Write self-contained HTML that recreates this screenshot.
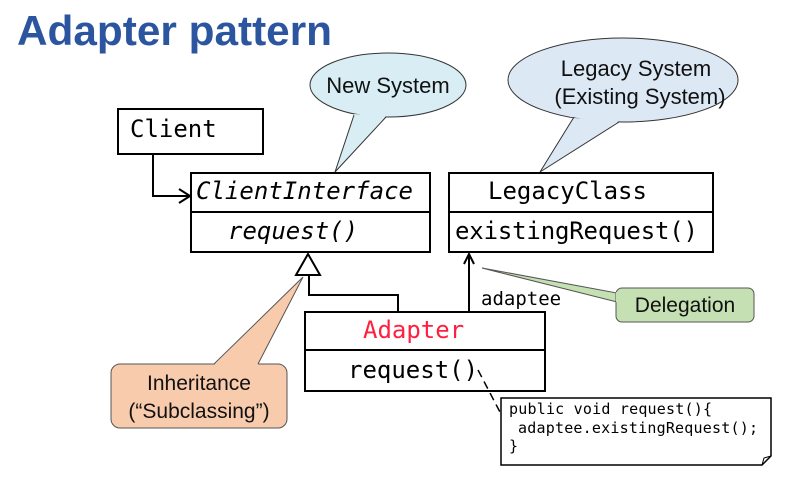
<!DOCTYPE html>
<html><head><meta charset="utf-8"><style>
html,body{margin:0;padding:0;background:#fff;}
svg{display:block}
.m{font-family:"DejaVu Sans Mono","Liberation Mono",monospace;}
.s{font-family:"Liberation Sans",sans-serif;}
</style></head><body>
<svg width="802" height="486" viewBox="0 0 802 486" xmlns="http://www.w3.org/2000/svg">
<text x="17" y="45" class="s" font-size="42" font-weight="bold" fill="#2c55a0" textLength="315" lengthAdjust="spacingAndGlyphs">Adapter pattern</text>

<!-- New System bubble -->
<ellipse cx="388" cy="85" rx="78" ry="32" fill="#d9eef4" stroke="#333" stroke-width="1"/>
<path d="M335,172 L354,114 L386,116 Z" fill="#d9eef4"/>
<path d="M354,115 L335,172 L386,117" fill="none" stroke="#333" stroke-width="1"/>
<text x="388" y="93" class="s" font-size="22" text-anchor="middle" fill="#111">New System</text>

<!-- Legacy bubble -->
<ellipse cx="623" cy="80" rx="115" ry="42" fill="#dde8f5" stroke="#333" stroke-width="1"/>
<path d="M574,118 L540,172 L619,121 Z" fill="#dde8f5"/>
<path d="M574,117 L540,172 L619,122" fill="none" stroke="#333" stroke-width="1"/>
<text x="636" y="76" class="s" font-size="22" text-anchor="middle" fill="#111">Legacy System</text>
<text x="640" y="104" class="s" font-size="22" text-anchor="middle" fill="#111">(Existing System)</text>

<!-- Client -->
<rect x="118" y="109" width="145" height="45" fill="#fff" stroke="#000" stroke-width="2"/>
<text x="130" y="137" class="m" font-size="24">Client</text>
<path d="M153,154 V196 H189" fill="none" stroke="#000" stroke-width="2"/>
<path d="M179,189 L190,196 L179,203" fill="none" stroke="#000" stroke-width="2"/>

<!-- ClientInterface -->
<rect x="191" y="173" width="239" height="79" fill="#fff" stroke="#000" stroke-width="2"/>
<line x1="191" y1="212" x2="430" y2="212" stroke="#000" stroke-width="2"/>
<text x="196" y="199" class="m" font-size="24" font-style="italic" textLength="217">ClientInterface</text>
<text x="228" y="239" class="m" font-size="24" font-style="italic">request()</text>

<!-- LegacyClass -->
<rect x="449" y="173" width="264" height="79" fill="#fff" stroke="#000" stroke-width="2"/>
<line x1="449" y1="212" x2="713" y2="212" stroke="#000" stroke-width="2"/>
<text x="488" y="199" class="m" font-size="24">LegacyClass</text>
<text x="455" y="239" class="m" font-size="24" textLength="243">existingRequest()</text>

<!-- Inheritance -->
<path d="M309,275 V295 H398 V312" fill="none" stroke="#000" stroke-width="2"/>
<path d="M308,254 L296,275 L320,275 Z" fill="#fff" stroke="#000" stroke-width="2"/>

<!-- Adaptee -->
<line x1="469" y1="312" x2="469" y2="254" stroke="#000" stroke-width="2"/>
<path d="M464,264 L469,254 L474,264" fill="none" stroke="#000" stroke-width="2"/>
<text x="481" y="305" class="m" font-size="19">adaptee</text>

<!-- Adapter -->
<rect x="305" y="312" width="240" height="79" fill="#fff" stroke="#000" stroke-width="2"/>
<line x1="305" y1="350" x2="545" y2="350" stroke="#000" stroke-width="2"/>
<text x="363" y="338" class="m" font-size="24" fill="#ff2040">Adapter</text>
<text x="348" y="378" class="m" font-size="24">request()</text>

<!-- Delegation -->
<path d="M482,268 L617,293 L617,302 Z" fill="#c5e0b3" stroke="#555" stroke-width="1"/>
<rect x="616" y="288" width="138" height="34" rx="6" fill="#c5e0b3" stroke="#555" stroke-width="1"/>
<path d="M616,292 L620,293 L620,302 L616,302 Z" fill="#c5e0b3"/>
<text x="685" y="312" class="s" font-size="21" text-anchor="middle" fill="#111">Delegation</text>

<!-- Inheritance callout -->
<rect x="111" y="364" width="176" height="64" rx="9" fill="#f8cbad" stroke="#555" stroke-width="1"/>
<path d="M214,365 L303,277 L258,365 Z" fill="#f8cbad"/>
<path d="M214,364 L303,277 L258,364" fill="none" stroke="#555" stroke-width="1"/>
<text x="199" y="390" class="s" font-size="21" text-anchor="middle" fill="#111">Inheritance</text>
<text x="199" y="418" class="s" font-size="21" text-anchor="middle" fill="#111">(“Subclassing”)</text>

<!-- Note -->
<line x1="478" y1="370" x2="501" y2="414" stroke="#000" stroke-width="1.5" stroke-dasharray="8,5"/>
<path d="M501,398 H771 V456 L762,465 H501 Z" fill="#fff" stroke="#000" stroke-width="1.5"/>
<path d="M762,465 L764,458 L771,456" fill="none" stroke="#000" stroke-width="1"/>
<text x="509" y="414" class="m" font-size="15" textLength="203">public void request(){</text>
<text x="518" y="433" class="m" font-size="15" textLength="240">adaptee.existingRequest();</text>
<text x="509" y="451" class="m" font-size="15">}</text>
</svg>
</body></html>
